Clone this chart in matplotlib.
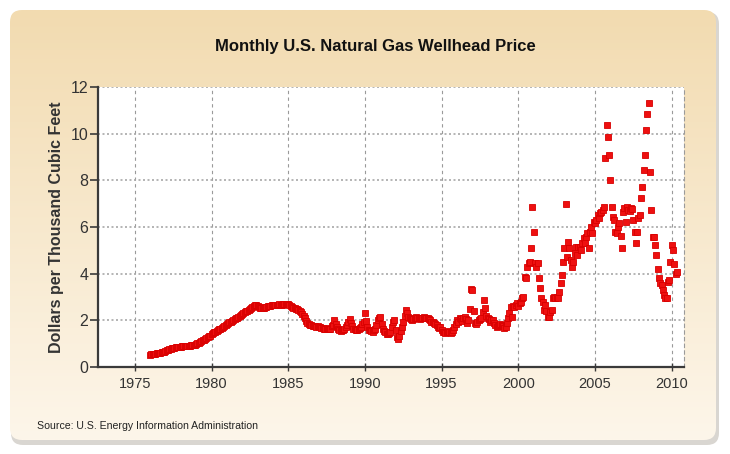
import numpy as np
import matplotlib
matplotlib.use("Agg")
import matplotlib.pyplot as plt
from matplotlib.patches import FancyBboxPatch

# monthly wellhead price, $ per thousand cubic feet, Jan 1976 onwards
prices_1970s = [
    [0.52, 0.54, 0.55, 0.55, 0.57, 0.58, 0.58, 0.60, 0.62, 0.63, 0.65, 0.66],
    [0.70, 0.73, 0.75, 0.78, 0.79, 0.80, 0.82, 0.83, 0.84, 0.85, 0.86, 0.86],
    [0.87, 0.88, 0.89, 0.89, 0.90, 0.91, 0.92, 0.92, 0.93, 0.94, 0.95, 0.96],
    [1.00, 1.03, 1.05, 1.08, 1.12, 1.14, 1.17, 1.20, 1.24, 1.28, 1.31, 1.35],
]
prices_1980s = [
    [1.40, 1.44, 1.48, 1.52, 1.55, 1.58, 1.62, 1.65, 1.68, 1.72, 1.76, 1.80],
    [1.84, 1.87, 1.91, 1.94, 1.98, 2.01, 2.05, 2.09, 2.12, 2.16, 2.19, 2.22],
    [2.26, 2.30, 2.34, 2.38, 2.42, 2.46, 2.50, 2.53, 2.57, 2.60, 2.64, 2.66],
    [2.62, 2.58, 2.55, 2.52, 2.53, 2.55, 2.56, 2.58, 2.60, 2.61, 2.63, 2.64],
    [2.65, 2.66, 2.66, 2.65, 2.67, 2.68, 2.67, 2.66, 2.68, 2.69, 2.70, 2.70],
    [2.69, 2.66, 2.62, 2.59, 2.55, 2.52, 2.50, 2.48, 2.45, 2.40, 2.35, 2.28],
    [2.18, 2.08, 1.98, 1.90, 1.84, 1.80, 1.78, 1.76, 1.75, 1.74, 1.73, 1.74],
    [1.72, 1.70, 1.68, 1.66, 1.64, 1.65, 1.67, 1.63, 1.62, 1.65, 1.75, 1.80],
    [2.00, 1.85, 1.70, 1.62, 1.58, 1.55, 1.57, 1.60, 1.63, 1.70, 1.82, 1.95],
    [2.05, 1.90, 1.75, 1.65, 1.62, 1.60, 1.58, 1.62, 1.66, 1.72, 1.85, 1.95],
]
prices_1990s = [
    [2.30, 1.98, 1.72, 1.60, 1.58, 1.55, 1.52, 1.58, 1.65, 1.80, 2.00, 2.10],
    [2.15, 1.85, 1.65, 1.55, 1.48, 1.42, 1.40, 1.45, 1.52, 1.70, 1.95, 2.00],
    [1.60, 1.28, 1.22, 1.35, 1.55, 1.70, 1.95, 2.20, 2.44, 2.30, 2.15, 2.10],
    [2.05, 2.00, 2.05, 2.10, 2.15, 2.12, 2.08, 2.05, 2.10, 2.12, 2.15, 2.10],
    [2.08, 2.10, 2.05, 2.00, 1.95, 1.92, 1.90, 1.85, 1.80, 1.72, 1.68, 1.70],
    [1.60, 1.52, 1.48, 1.45, 1.50, 1.55, 1.50, 1.45, 1.50, 1.58, 1.72, 1.85],
    [2.00, 1.95, 2.10, 2.05, 1.98, 2.10, 2.15, 2.05, 1.90, 2.00, 2.50, 3.35],
    [3.30, 2.40, 1.90, 1.85, 1.95, 2.00, 2.05, 2.10, 2.35, 2.87, 2.55, 2.20],
    [2.10, 2.05, 1.95, 2.00, 2.00, 1.90, 1.80, 1.73, 1.75, 1.80, 1.85, 1.80],
    [1.75, 1.66, 1.72, 1.90, 2.10, 2.30, 2.58, 2.16, 2.60, 2.58, 2.66, 2.73],
]
prices_2000s = [
    [2.60, 2.73, 2.80, 2.94, 3.00, 3.87, 3.80, 4.30, 4.45, 4.50, 5.08, 6.87],
    [5.80, 4.45, 4.30, 4.45, 3.80, 3.37, 2.94, 2.80, 2.45, 2.66, 2.40, 2.16],
    [2.16, 2.37, 2.44, 2.95, 3.00, 2.94, 3.00, 2.95, 3.20, 3.58, 3.94, 4.51],
    [5.10, 7.00, 4.72, 5.37, 5.08, 4.58, 4.30, 4.51, 4.87, 5.16, 4.80, 5.16],
    [5.16, 5.00, 5.30, 5.52, 5.30, 5.59, 5.75, 5.08, 5.80, 6.00, 5.73, 6.23],
    [6.16, 6.30, 6.52, 6.37, 6.59, 6.66, 6.73, 6.85, 8.94, 10.37, 9.87, 9.08],
    [8.00, 6.87, 6.44, 6.30, 5.80, 5.75, 6.00, 6.16, 5.60, 5.10, 6.66, 6.80],
    [6.20, 6.87, 6.73, 6.70, 6.80, 6.75, 6.30, 5.80, 5.30, 5.80, 6.37, 6.51],
    [7.23, 7.73, 8.44, 9.08, 10.16, 10.84, 11.33, 8.37, 6.73, 5.59, 5.59, 5.23],
    [4.80, 4.21, 3.80, 3.58, 3.51, 3.30, 3.08, 2.94, 2.94, 3.66, 3.73, 4.50],
]
prices_2010 = [5.23, 5.02, 4.43, 4.00, 4.08]

first_year = 1976
x_ticks = [1975, 1980, 1985, 1990, 1995, 2000, 2005, 2010]
y_ticks = [0, 2, 4, 6, 8, 10, 12]

title = "Monthly U.S. Natural Gas Wellhead Price"
y_label = "Dollars per Thousand Cubic Feet"
source = "Source: U.S. Energy Information Administration"

values = []
for row in prices_1970s + prices_1980s + prices_1990s + prices_2000s:
    values.extend(row)
values.extend(prices_2010)
values = np.array(values)
dates = first_year + np.arange(len(values)) / 12.0

font = ["Liberation Sans", "DejaVu Sans"]

W, H = 730, 454
fig = plt.figure(figsize=(W / 100, H / 100), dpi=100)
fig.patch.set_facecolor("white")

# beige gradient panel with rounded corners
bg = fig.add_axes([0, 0, 1, 1])
bg.axis("off")
top = np.array([242, 219, 176]) / 255
bot = np.array([253, 246, 234]) / 255
t = np.linspace(0, 1, 200)[:, None, None]
grad = np.repeat(top * (1 - t) + bot * t, 2, axis=1)
shadow = FancyBboxPatch((11, 12), W - 22, H - 21,
                        boxstyle="round,pad=0,rounding_size=12",
                        fc="#d9d6d1", ec="none", zorder=1)
bg.add_patch(shadow)
panel = FancyBboxPatch((10, 10), W - 24, H - 24,
                       boxstyle="round,pad=0,rounding_size=12",
                       fc="none", ec="none", zorder=1)
bg.add_patch(panel)
im = bg.imshow(grad, extent=[10, W - 14, H - 14, 10], aspect="auto", zorder=2)
im.set_clip_path(panel)
bg.set_xlim(0, W)
bg.set_ylim(H, 0)

ax = fig.add_axes([98 / W, 1 - 367 / H, (684 - 98) / W, (367 - 87) / H])
ax.set_facecolor("white")
ax.plot(dates, values, ls="none", marker="s", ms=4.5,
        color="#ee1010", mec="#d80000", mew=0.6, zorder=3)

ax.set_xlim(1972.6, 2010.8)
ax.set_ylim(0, 12)
ax.set_xticks(x_ticks)
ax.set_yticks(y_ticks)
ax.grid(axis="x", color="#9a9a9a", ls=(0, (3, 3)), lw=0.8)
ax.grid(axis="y", color="#a8a8a8", ls=(0, (1.2, 1.5)), lw=1.2)

for s in ["left", "bottom"]:
    ax.spines[s].set_color("#3a3a3a")
    ax.spines[s].set_linewidth(1.6)
ax.spines["top"].set_visible(False)
ax.spines["right"].set_color("#9a9a9a")
ax.spines["right"].set_linestyle((0, (3, 3)))
ax.spines["right"].set_linewidth(0.8)

ax.tick_params(axis="y", length=6, width=1.2, color="#3a3a3a", pad=1,
               labelsize=11.5, labelcolor="#333333")
ax.tick_params(axis="x", direction="inout", length=6, width=1.0,
               color="#3a3a3a", pad=4, labelsize=10.5, labelcolor="#333333")
for lab in ax.get_xticklabels() + ax.get_yticklabels():
    lab.set_family(font)

ax.set_ylabel(y_label, fontsize=11.5, fontweight="bold", color="#333333",
              family=font, labelpad=5)

fig.text(375 / W, 1 - 47 / H, title, ha="center", va="center",
         fontsize=12, fontweight="bold", color="#111111", family=font)
fig.text(37 / W, 1 - 426 / H, source, ha="left", va="center",
         fontsize=7.6, color="#222222", family=font)

fig.savefig("out.png", dpi=100)
